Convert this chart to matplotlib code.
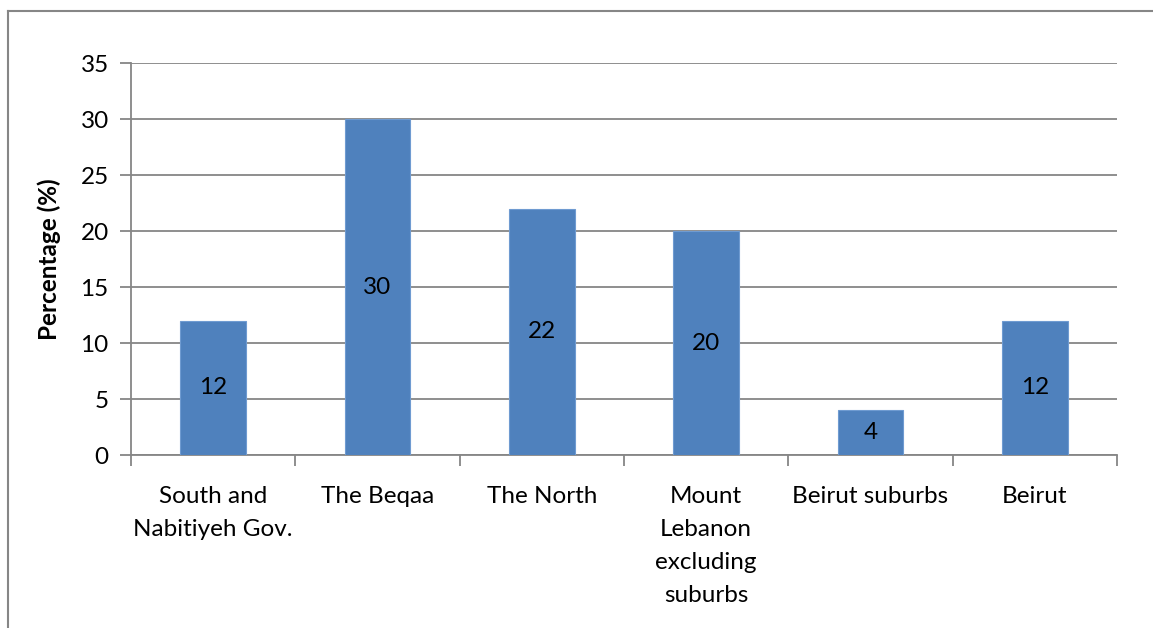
import matplotlib.pyplot as plt
import numpy as np

plt.rcParams['font.family'] = ['Lato', 'DejaVu Sans']

categories = ["South and\nNabitiyeh Gov.", "The Beqaa", "The North",
              "Mount\nLebanon\nexcluding\nsuburbs", "Beirut suburbs", "Beirut"]
values = [12, 30, 22, 20, 4, 12]
y_ticks = [0, 5, 10, 15, 20, 25, 30, 35]

bar_color = '#4F81BD'
grid_color = '#868686'

fig = plt.figure(figsize=(11.53, 6.28), dpi=100)
ax = fig.add_axes([131 / 1153, 1 - 455 / 628, (1117 - 131) / 1153, (455 - 63) / 628])

x = np.arange(len(categories))
bars = ax.bar(x, values, width=0.4, color=bar_color, edgecolor='#6F9BD1', linewidth=0.8, zorder=3)

for xi, v in zip(x, values):
    ax.text(xi, v / 2, str(v), ha='center', va='center', fontsize=17.5, color='black', zorder=4)

ax.set_xlim(-0.5, len(categories) - 0.5)
ax.set_ylim(0, 35)
ax.set_yticks(y_ticks)
ax.set_yticklabels([str(t) for t in y_ticks], fontsize=17.5)
ax.yaxis.grid(True, color=grid_color, linewidth=1.3, zorder=0)
ax.set_axisbelow(True)

# category labels centred under bars, ticks between categories
ax.set_xticks(x)
ax.set_xticklabels(categories, fontsize=17.5, linespacing=1.72, va='top')
ax.tick_params(axis='x', which='major', length=0, pad=22)
ax.set_xticks(np.arange(-0.5, len(categories)), minor=True)
ax.tick_params(axis='x', which='minor', length=8, width=1.3, color=grid_color)
ax.tick_params(axis='y', length=8, width=1.3, color=grid_color, pad=8)

for side in ['top', 'right']:
    ax.spines[side].set_visible(False)
for side in ['left', 'bottom']:
    ax.spines[side].set_color(grid_color)
    ax.spines[side].set_linewidth(1.3)

ax.set_ylabel("Percentage (%)", fontsize=17.5, fontweight='bold', labelpad=14)

# chart border (top and left edges visible)
fig.add_artist(plt.Line2D([8 / 1153, 1], [1 - 11 / 628, 1 - 11 / 628], color=grid_color, linewidth=1.5))
fig.add_artist(plt.Line2D([8 / 1153, 8 / 1153], [0, 1 - 11 / 628], color=grid_color, linewidth=1.5))

fig.savefig('out.png', dpi=100)
